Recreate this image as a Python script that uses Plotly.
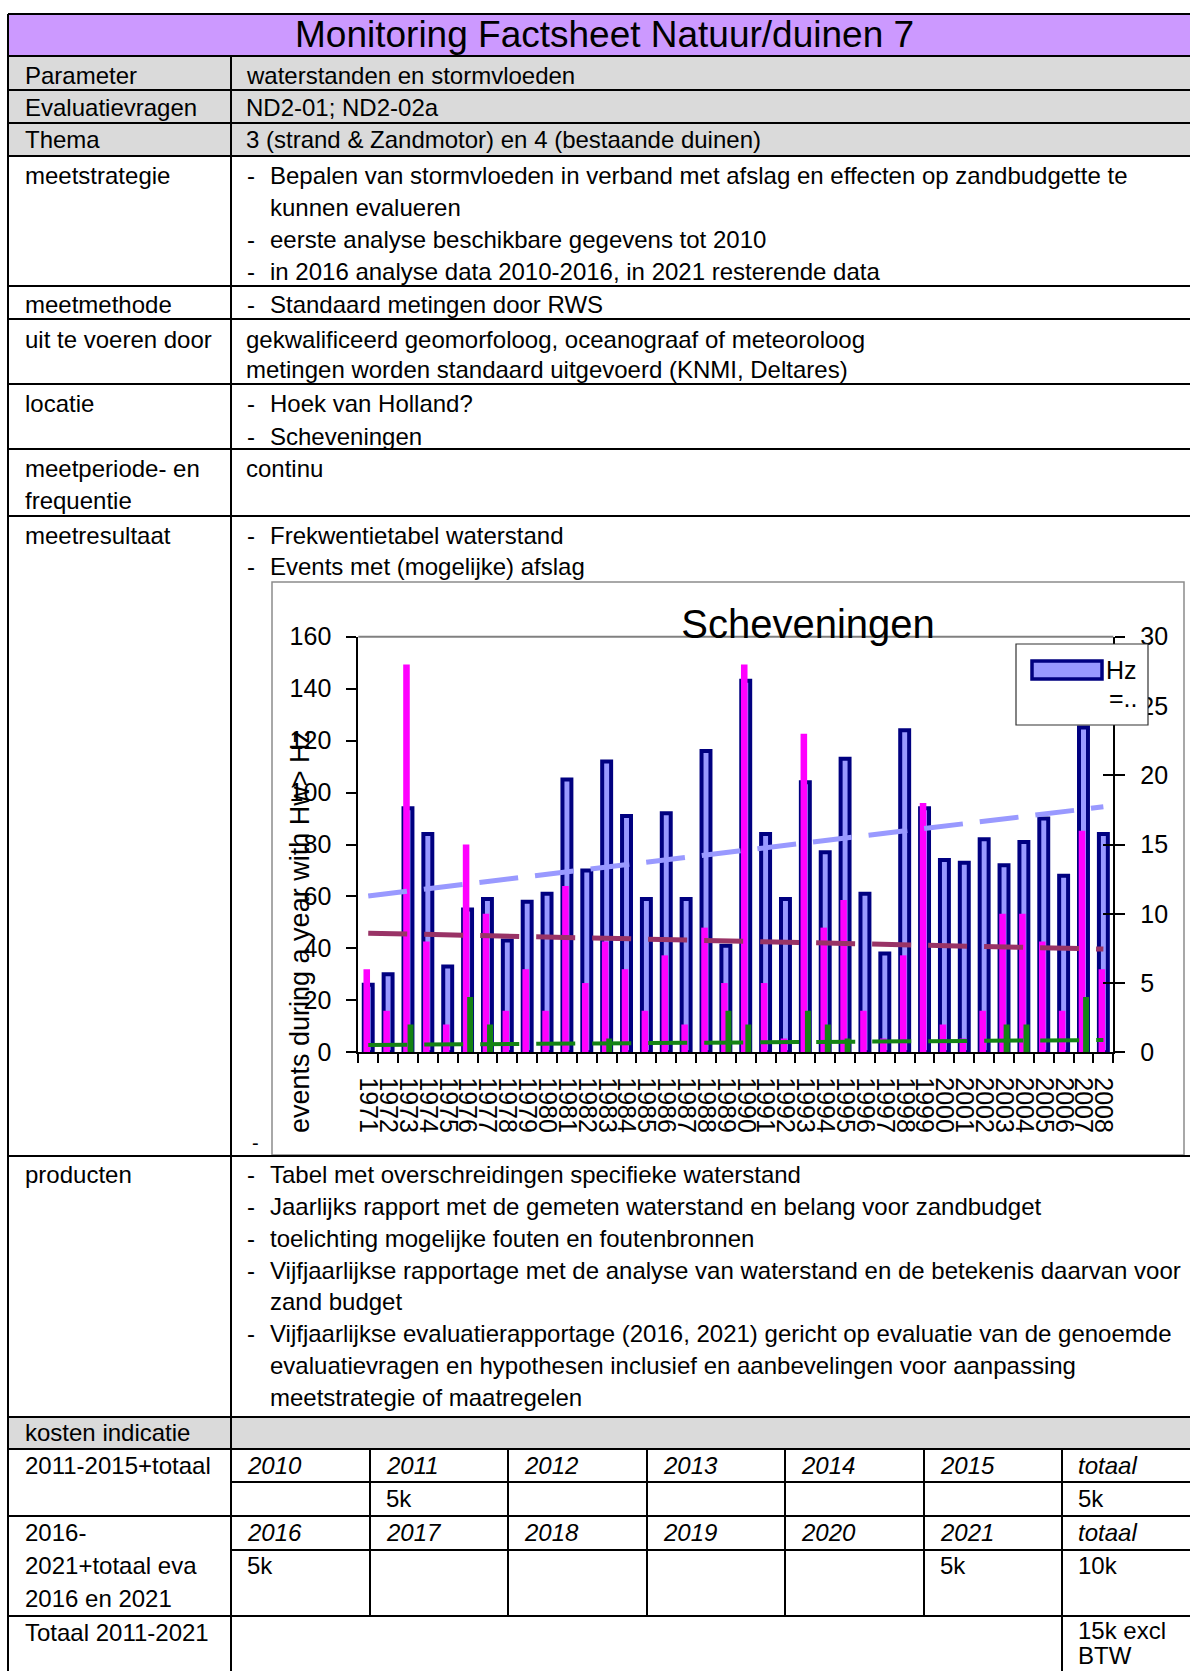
import plotly.graph_objects as go

W, H = 1190, 1671

# ---------------------------------------------------------------- chart data
years = ["1971", "1972", "1973", "1974", "1975", "1976", "1977", "1978", "1979", "1980",
         "1981", "1982", "1983", "1984", "1985", "1986", "1987", "1988", "1989", "1990",
         "1991", "1992", "1993", "1994", "1995", "1996", "1997", "1998", "1999", "2000",
         "2001", "2002", "2003", "2004", "2005", "2006", "2007", "2008"]

# events per year with Hw > Hz (left axis)
events_hz = [26, 30, 94, 84, 33, 55, 59, 43, 58, 61,
             105, 70, 112, 91, 59, 92, 59, 116, 41, 143,
             84, 59, 104, 77, 113, 61, 38, 124, 94, 74,
             73, 82, 72, 81, 90, 68, 125, 84]

# events per year above the higher thresholds (right axis)
events_high = [6, 3, 28, 8, 2, 15, 10, 3, 6, 3,
               12, 5, 8, 6, 3, 7, 2, 9, 5, 28,
               5, 1, 23, 9, 11, 3, 1, 7, 18, 2,
               1, 3, 10, 10, 8, 3, 16, 6]
events_extreme = [0, 0, 2, 0, 0, 4, 2, 0, 0, 0,
                  0, 0, 1, 0, 0, 0, 0, 0, 3, 2,
                  0, 0, 3, 2, 1, 0, 0, 0, 0, 0,
                  0, 0, 2, 2, 0, 0, 4, 0]

# linear trend lines (start / end year)
trend_years = ["1971", "2008"]
trend_hz = [60.2, 94.5]
trend_high = [8.6, 7.45]
trend_extreme = [0.53, 0.89]

left_ticks = [0, 20, 40, 60, 80, 100, 120, 140, 160]
right_ticks = [0, 5, 10, 15, 20, 25, 30]

# ---------------------------------------------------------------- sheet text
title_text = "Monitoring Factsheet Natuur/duinen 7"

# (label, y-centre in px)
label_col = [
    ("Parameter", 75), ("Evaluatievragen", 108), ("Thema", 140),
    ("meetstrategie", 175), ("meetmethode", 304), ("uit te voeren door", 339),
    ("locatie", 403), ("meetperiode- en", 469), ("frequentie", 500),
    ("meetresultaat", 535), ("producten", 1174), ("kosten indicatie", 1432),
    ("2011-2015+totaal", 1465), ("2016-", 1532), ("2021+totaal eva", 1565),
    ("2016 en 2021", 1598), ("Totaal 2011-2021", 1632),
]

# (kind, text, y-centre) ; kind: plain / bullet / cont
value_col = [
    ("plain", "waterstanden en stormvloeden", 75),
    ("plain", "ND2-01; ND2-02a", 108),
    ("plain", "3 (strand &amp; Zandmotor) en 4 (bestaande duinen)", 140),
    ("bullet", "Bepalen van stormvloeden in verband met afslag en effecten op zandbudgette te", 175),
    ("cont", "kunnen evalueren", 207),
    ("bullet", "eerste analyse beschikbare gegevens tot 2010", 240),
    ("bullet", "in 2016 analyse data 2010-2016, in 2021 resterende data", 272),
    ("bullet", "Standaard metingen door RWS", 304),
    ("plain", "gekwalificeerd geomorfoloog, oceanograaf of meteoroloog", 339),
    ("plain", "metingen worden standaard uitgevoerd (KNMI, Deltares)", 370),
    ("bullet", "Hoek van Holland?", 403),
    ("bullet", "Scheveningen", 436),
    ("plain", "continu", 469),
    ("bullet", "Frekwentietabel waterstand", 535),
    ("bullet", "Events met (mogelijke) afslag", 567),
    ("bullet", "Tabel met overschreidingen specifieke waterstand", 1174),
    ("bullet", "Jaarlijks rapport met de gemeten waterstand en belang voor zandbudget", 1206),
    ("bullet", "toelichting mogelijke fouten en foutenbronnen", 1238),
    ("bullet", "Vijfjaarlijkse rapportage met de analyse van waterstand en de betekenis daarvan voor", 1270),
    ("cont", "zand budget", 1301),
    ("bullet", "Vijfjaarlijkse evaluatierapportage (2016, 2021) gericht op evaluatie van de genoemde", 1333),
    ("cont", "evaluatievragen en hypothesen inclusief en aanbevelingen voor aanpassing", 1365),
    ("cont", "meetstrategie of maatregelen", 1397),
]

cost_years_1 = ["2010", "2011", "2012", "2013", "2014", "2015", "totaal"]
cost_vals_1 = ["", "5k", "", "", "", "", "5k"]
cost_years_2 = ["2016", "2017", "2018", "2019", "2020", "2021", "totaal"]
cost_vals_2 = ["5k", "", "", "", "", "5k", "10k"]
cost_total = ["15k excl", "BTW"]

# ---------------------------------------------------------------- geometry helpers
FONT = "Liberation Sans, Arial, sans-serif"


def px(x):
    return x / W


def py(y):
    return 1 - y / H


shapes = []
annotations = []


def hline(y, x0, x1, width=2, color="black"):
    shapes.append(dict(type="line", xref="paper", yref="paper", x0=px(x0), x1=px(x1),
                       y0=py(y), y1=py(y), line=dict(color=color, width=width), layer="above"))


def vline(x, y0, y1, width=2, color="black"):
    shapes.append(dict(type="line", xref="paper", yref="paper", x0=px(x), x1=px(x),
                       y0=py(y0), y1=py(y1), line=dict(color=color, width=width), layer="above"))


def rect(x0, y0, x1, y1, fill, line_color=None, lw=0, layer="below"):
    shapes.append(dict(type="rect", xref="paper", yref="paper", x0=px(x0), x1=px(x1),
                       y0=py(y1), y1=py(y0), fillcolor=fill, layer=layer,
                       line=dict(color=line_color or fill, width=lw)))


def text(x, y, s, size=24, anchor="left"):
    annotations.append(dict(xref="paper", yref="paper", x=px(x), y=py(y), text=s,
                            showarrow=False, xanchor=anchor, yanchor="middle", align="left",
                            font=dict(family=FONT, size=size, color="black")))


# ---------------------------------------------------------------- table layout
X_LEFT, X_DIV, X_RIGHT = 8, 231, 1190
row_lines = [14, 56, 90, 123, 156, 286, 319, 384, 449, 516, 1156, 1417, 1449, 1516, 1616]
cost_cols = [231, 370, 508, 647, 785, 924, 1062]

rect(X_LEFT, 14, X_RIGHT, 56, "#CC99FF")
rect(X_LEFT, 56, X_RIGHT, 156, "#DADADA")
rect(X_LEFT, 1417, X_RIGHT, 1449, "#DADADA")

for y in row_lines:
    hline(y, X_LEFT, X_RIGHT)
hline(1482, X_DIV, X_RIGHT)
hline(1550, X_DIV, X_RIGHT)
vline(X_LEFT, 14, H)
vline(X_DIV, 56, H)
for x in cost_cols[1:6]:
    vline(x, 1449, 1616)
vline(cost_cols[6], 1449, H)

text(604, 35, title_text, size=37, anchor="center")
for lab, y in label_col:
    text(23, y, lab)
for kind, s, y in value_col:
    if kind == "plain":
        text(244, y, s)
    elif kind == "bullet":
        text(245, y, "-")
        text(268, y, s)
    else:
        text(268, y, s)
for i, col in enumerate(cost_cols):
    text(col + 14, 1465, "<i>%s</i>" % cost_years_1[i])
    if cost_vals_1[i]:
        text(col + 14, 1498, cost_vals_1[i])
    text(col + 14, 1532, "<i>%s</i>" % cost_years_2[i])
    if cost_vals_2[i]:
        text(col + 14, 1565, cost_vals_2[i])
text(cost_cols[6] + 14, 1630, cost_total[0])
text(cost_cols[6] + 14, 1655, cost_total[1])
text(250, 1143, "-", size=20)

# ---------------------------------------------------------------- chart frame
PL, PR, PT, PB = 358.3, 1113.3, 636.7, 1052.3
rect(272, 582, 1184, 1155, "rgba(0,0,0,0)", line_color="#8C8C8C", lw=1.5)
hline(PT, PL, PR, width=2, color="#808080")

# legend box (drawn by hand to get the wide bar swatch)
rect(1016, 644, 1148, 725, "white", line_color="#333333", lw=1.2, layer="above")
rect(1032, 661, 1102, 679, "#9999FF", line_color="#000080", lw=3.5, layer="above")
text(1104, 670, "Hz", size=25)
text(1107, 698, "=..", size=25)

# y-axis title (overlaps the tick labels, as in the sheet)
annotations.append(dict(xref="paper", yref="paper", x=px(300), y=py(932),
                        text="events during a year with Hw> Hz", textangle=-90,
                        showarrow=False, xanchor="center", yanchor="middle",
                        font=dict(family=FONT, size=27, color="black")))

# ---------------------------------------------------------------- traces
DASH = "39px,17px"
fig = go.Figure()
fig.add_trace(go.Bar(x=years, y=events_hz, name="Hz", yaxis="y",
                     width=0.45, offset=-0.225,
                     marker=dict(color="#9999FF", line=dict(color="#000080", width=4))))
fig.add_trace(go.Bar(x=years, y=events_high, name="high", yaxis="y2",
                     width=0.33, offset=-0.24,
                     marker=dict(color="#FF00FF", line=dict(width=0))))
fig.add_trace(go.Bar(x=years, y=events_extreme, name="extreme", yaxis="y2",
                     width=0.3, offset=-0.02,
                     marker=dict(color="#148414", line=dict(width=0))))
fig.add_trace(go.Scatter(x=trend_years, y=trend_hz, mode="lines", yaxis="y3",
                         line=dict(color="#9999FF", width=5, dash=DASH)))
fig.add_trace(go.Scatter(x=trend_years, y=trend_high, mode="lines", yaxis="y4",
                         line=dict(color="#993366", width=5, dash=DASH)))
fig.add_trace(go.Scatter(x=trend_years, y=trend_extreme, mode="lines", yaxis="y4",
                         line=dict(color="#148414", width=4, dash=DASH)))

y_dom = [py(PB), py(PT)]
tick_font = dict(family=FONT, size=25, color="black")

fig.update_layout(
    width=W, height=H,
    margin=dict(l=0, r=0, t=0, b=0, pad=0, autoexpand=False),
    paper_bgcolor="white", plot_bgcolor="rgba(0,0,0,0)",
    font=dict(family=FONT, color="black"),
    showlegend=False, barmode="overlay",
    title=dict(text="Scheveningen", x=px(808), y=py(624), xref="paper", yref="paper",
               xanchor="center", yanchor="middle", automargin=False,
               font=dict(family=FONT, size=40, color="black")),
    xaxis=dict(domain=[px(PL), px(PR)], type="category", categoryorder="array",
               categoryarray=years, tickmode="linear", tick0=0, dtick=1,
               tickson="boundaries", ticks="outside", ticklen=9,
               tickwidth=1.5, tickcolor="black", showline=True, linecolor="black",
               linewidth=2, showgrid=False, tickangle=90, ticklabelstandoff=18,
               tickfont=dict(family=FONT, size=25, color="black"), anchor="y",
               automargin=False),
    yaxis=dict(domain=y_dom, range=[0, 160], tickvals=left_ticks, ticks="outside",
               ticklen=10, tickwidth=1.5, tickcolor="black", showline=True,
               linecolor="black", linewidth=2, showgrid=False, zeroline=False,
               tickfont=tick_font, ticklabelstandoff=10, automargin=False),
    yaxis2=dict(overlaying="y", side="right", anchor="x", range=[0, 30],
                tickvals=right_ticks, ticks="outside", ticklen=10, tickwidth=1.5,
                tickcolor="black", showline=True, linecolor="black", linewidth=2,
                showgrid=False, zeroline=False, tickfont=tick_font, ticklabelstandoff=10,
                automargin=False),
    yaxis3=dict(overlaying="y", range=[0, 160], visible=False, automargin=False),
    yaxis4=dict(overlaying="y", side="right", anchor="x", range=[0, 30],
                tickvals=right_ticks, ticks="inside", ticklen=10, tickwidth=1.5,
                tickcolor="black", showticklabels=False, showline=False,
                showgrid=False, zeroline=False, automargin=False),
    shapes=shapes,
    annotations=annotations,
)

fig.write_html("out.html")
